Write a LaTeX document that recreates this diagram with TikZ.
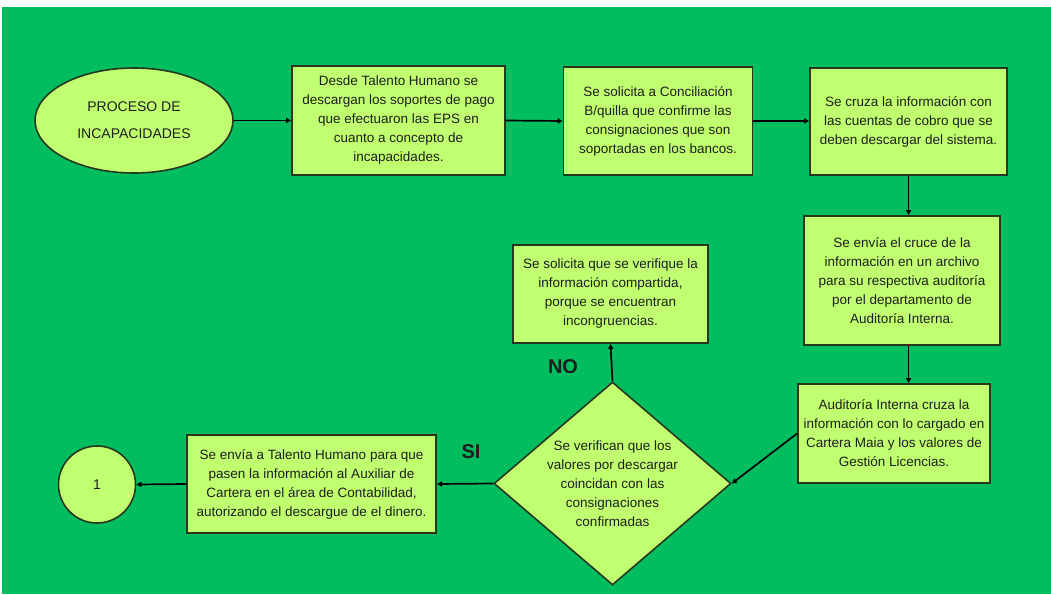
\documentclass[tikz,border=0pt]{standalone}
\usepackage{fontspec}
\setmainfont{Liberation Sans}
\usepackage{tikz}
\usetikzlibrary{shapes.geometric, arrows.meta, positioning}
\definecolor{bggreen}{RGB}{0,190,95}
\definecolor{boxfill}{RGB}{192,255,112}
\definecolor{boxedge}{RGB}{40,55,30}
\definecolor{inkgray}{RGB}{30,30,30}
\tikzset{
  procbox/.style={
    draw=boxedge, rectangle, line width=1.8pt,
    fill=boxfill, text=inkgray, inner sep=0pt,
    font=\fontsize{13.5}{19}\selectfont, align=center
  },
  startnode/.style={
    draw=boxedge, ellipse, line width=1.6pt,
    fill=boxfill, text=inkgray, inner sep=0pt,
    minimum width=198pt, minimum height=105pt,
    font=\fontsize{14}{27}\selectfont, align=center
  },
  decision/.style={
    draw=boxedge, diamond, line width=1.6pt,
    fill=boxfill, text=inkgray, inner sep=-5pt,
    minimum width=237pt, minimum height=203pt,
    font=\fontsize{13.5}{19}\selectfont, align=center
  },
  connector/.style={
    draw=boxedge, circle, line width=1.6pt,
    fill=boxfill, text=inkgray, inner sep=0pt,
    minimum size=77pt, font=\fontsize{14}{16}\selectfont
  },
  flow/.style={-{Triangle[length=5pt, width=5pt]}, line width=1.7pt, black},
  answer/.style={font=\fontsize{20}{22}\selectfont\bfseries, text=inkgray}
}

\begin{document}
\begin{tikzpicture}[x=1pt, y=-1pt]
  \useasboundingbox (0,0) rectangle (1051,594);
  \fill[bggreen] (2,7) rectangle (1051,594);

  % Top row
  \node[startnode] (start) at (134,120.5) {PROCESO DE\\INCAPACIDADES};
  \node[procbox, minimum width=213pt, minimum height=109pt] (descarga) at (398.5,120.5)
    {Desde Talento Humano se\\descargan los soportes de pago\\que efectuaron las EPS en\\cuanto a concepto de\\incapacidades.};
  \node[procbox, minimum width=189pt, minimum height=108pt] (concilia) at (658,121)
    {Se solicita a Conciliación\\B/quilla que confirme las\\consignaciones que son\\soportadas en los bancos.};
  \node[procbox, minimum width=197pt, minimum height=107pt] (cruce) at (908.5,121.5)
    {Se cruza la información con\\las cuentas de cobro que se\\deben descargar del sistema.};

  % Right column
  \node[procbox, minimum width=196pt, minimum height=129pt] (envio) at (902,280.5)
    {Se envía el cruce de la\\información en un archivo\\para su respectiva auditoría\\por el departamento de\\Auditoría Interna.};
  \node[procbox, minimum width=192pt, minimum height=99pt] (auditoria) at (894,433.5)
    {Auditoría Interna cruza la\\información con lo cargado en\\Cartera Maia y los valores de\\Gestión Licencias.};

  % Decision and branches
  \node[decision] (verifica) at (612.5,483.5)
    {Se verifican que los\\valores por descargar\\coincidan con las\\consignaciones\\confirmadas};
  \node[procbox, minimum width=195pt, minimum height=98pt] (revision) at (610.5,294)
    {Se solicita que se verifique la\\información compartida,\\porque se encuentran\\incongruencias.};
  \node[procbox, minimum width=249pt, minimum height=98pt] (talento) at (311.5,484)
    {Se envía a Talento Humano para que\\pasen la información al Auxiliar de\\Cartera en el área de Contabilidad,\\autorizando el descargue de el dinero.};
  \node[connector] (fin) at (97,484.5) {1};

  \node[answer] (no) at (563,367) {NO};
  \node[answer] (si) at (471,452) {SI};

  % Connectors
  \draw[flow] (start.east) -- (descarga.west);
  \draw[flow] (descarga.east) -- (concilia.west);
  \draw[flow] (concilia.east) -- (cruce.west |- concilia.east);
  \draw[flow] (cruce.south) -- (cruce.south |- envio.north);
  \draw[flow] (envio.south -| cruce.south) -- (auditoria.north -| cruce.south);
  \draw[flow] (auditoria.west) -- (verifica.east);
  \draw[flow] (verifica.north) -- (revision.south);
  \draw[flow] (verifica.west) -- (talento.east);
  \draw[flow] (talento.west) -- (fin.east);
\end{tikzpicture}
\end{document}
